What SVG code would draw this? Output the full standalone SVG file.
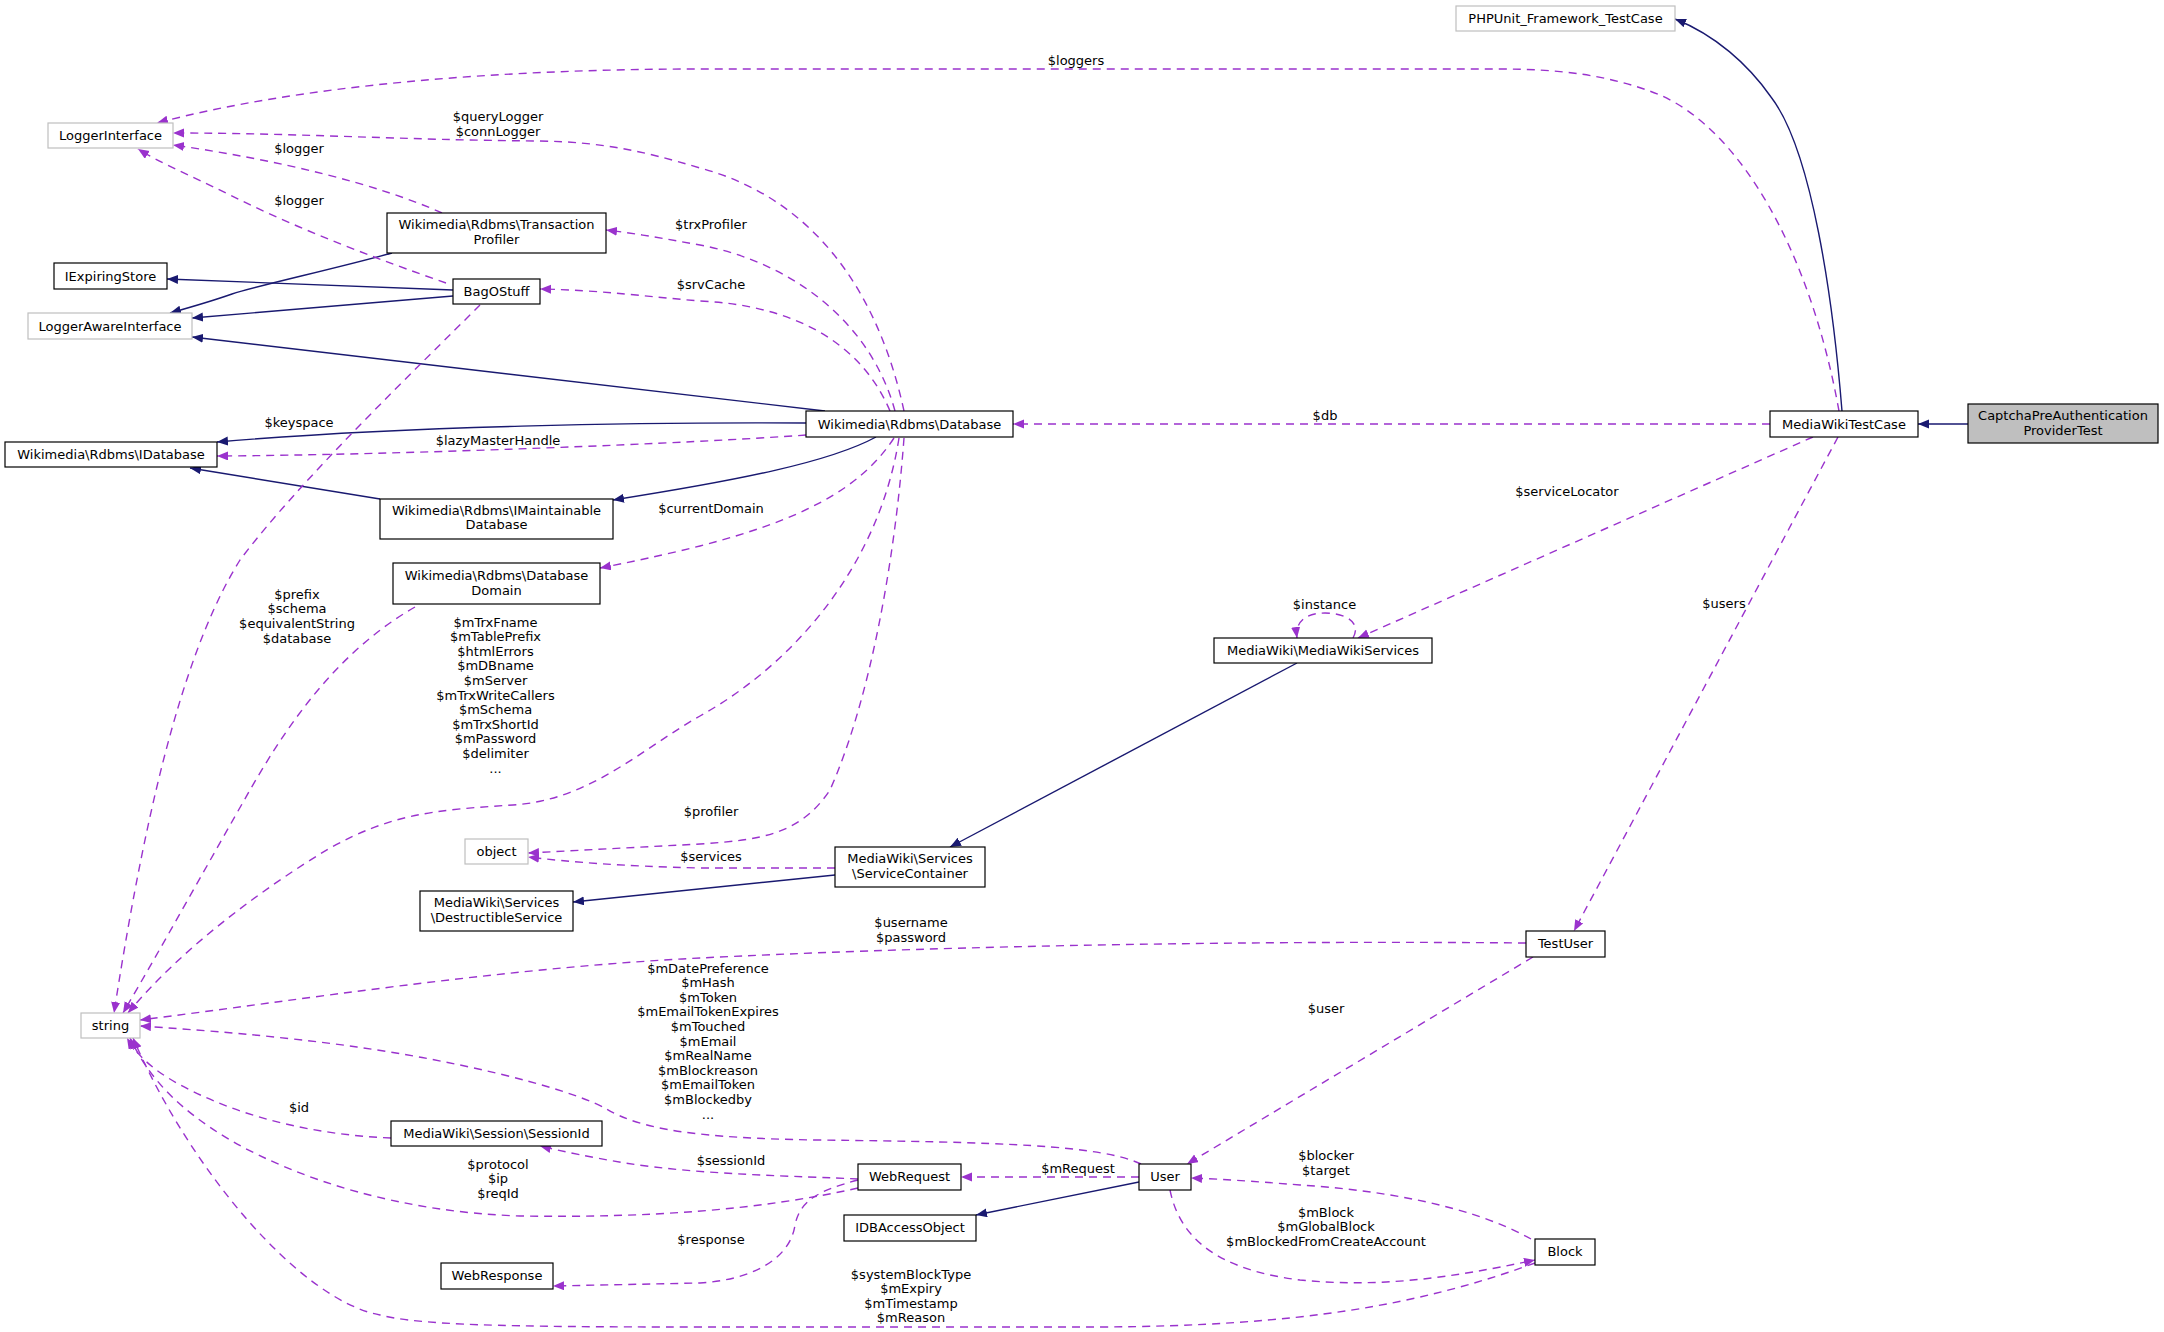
<svg xmlns="http://www.w3.org/2000/svg" width="2164" height="1332" viewBox="0 0 2164 1332">
<style>
text{font-family:"DejaVu Sans","Liberation Sans",sans-serif;font-size:13px;text-anchor:middle;fill:#000}
.n rect{fill:#fff;stroke:#000;stroke-width:1.2}
.g rect{fill:#fff;stroke:#bfbfbf;stroke-width:1.2}
.cur rect{fill:#bfbfbf;stroke:#000;stroke-width:1.2}
.inh{fill:none;stroke:#191970;stroke-width:1.4;marker-end:url(#ah1)}
.ref{fill:none;stroke:#9a32cd;stroke-width:1.4;stroke-dasharray:8,6;marker-end:url(#ah2)}
</style>
<defs>
<marker id="ah1" markerUnits="userSpaceOnUse" markerWidth="12" markerHeight="10" refX="11" refY="4.5" orient="auto"><path d="M0,0 L11,4.5 L0,9 z" fill="#191970"/></marker>
<marker id="ah2" markerUnits="userSpaceOnUse" markerWidth="12" markerHeight="10" refX="11" refY="4.5" orient="auto"><path d="M0,0 L11,4.5 L0,9 z" fill="#9a32cd"/></marker>
</defs>
<rect width="2164" height="1332" fill="#fff"/>
<g id="connectors">
<path class="inh" d="M1968,424 L1918,424"/>
<path class="inh" d="M1842,411 C1833,300 1812,150 1771,97 C1748,64 1715,35 1675,19"/>
<path class="inh" d="M825,411 L192,337"/>
<path class="inh" d="M806,423 C650,422 400,426 217,442"/>
<path class="inh" d="M876,437 C830,462 740,480 613,500"/>
<path class="inh" d="M380,499 L190,468"/>
<path class="inh" d="M453,290 L167,279"/>
<path class="inh" d="M453,296 L192,318"/>
<path class="inh" d="M392,253 C330,270 260,285 232,294 C215,300 195,306 170,313"/>
<path class="inh" d="M1297,663 L950,847"/>
<path class="inh" d="M835,875 L573,902"/>
<path class="inh" d="M1139,1182 L976,1215"/>
<path class="ref" d="M1839,411 C1810,250 1740,130 1660,95 C1610,75 1560,69 1500,69 L700,69 C500,69 300,85 157,123"/>
<path class="ref" d="M904,411 C880,300 820,200 700,168 C640,150 600,142 540,141 C400,140 300,133 173,133"/>
<path class="ref" d="M442,213 C380,185 280,160 173,145"/>
<path class="ref" d="M446,283 C380,260 300,230 230,195 C190,175 160,163 138,149"/>
<path class="ref" d="M895,411 C870,320 790,262 700,245 C660,238 640,234 606,230"/>
<path class="ref" d="M890,411 C860,340 790,305 700,301 C650,297 600,290 540,289"/>
<path class="ref" d="M806,435 C700,443 400,455 217,456"/>
<path class="ref" d="M1770,424 L1013,424"/>
<path class="ref" d="M894,438 C860,490 800,520 700,546 C660,556 630,562 600,568"/>
<path class="ref" d="M899,438 C880,560 800,660 700,716 C640,750 590,800 513,805 C430,810 390,815 330,848 C260,890 180,950 128,1013"/>
<path class="ref" d="M904,438 C895,560 870,700 830,790 C800,835 760,840 700,844 L528,853"/>
<path class="ref" d="M480,305 C420,365 300,480 240,560 C190,640 150,780 114,1013"/>
<path class="ref" d="M415,607 C340,650 290,720 250,790 C210,860 160,950 123,1013"/>
<path class="ref" d="M1813,437 L1358,638"/>
<path class="ref" d="M1353,638 C1362,622 1345,613 1325,613 C1305,613 1295,622 1297,638"/>
<path class="ref" d="M1838,437 L1574,931"/>
<path class="ref" d="M835,868 L700,868 C620,866 570,862 528,857"/>
<path class="ref" d="M1526,943 C1200,940 900,948 700,958 C500,968 300,1000 140,1020"/>
<path class="ref" d="M1141,1164 C1100,1145 1000,1142 815,1140 C700,1138 640,1130 605,1108 C560,1085 450,1060 357,1047 C280,1036 200,1030 140,1026"/>
<path class="ref" d="M391,1138 C320,1135 250,1120 190,1090 C160,1075 140,1060 127,1038"/>
<path class="ref" d="M858,1179 C800,1176 700,1175 625,1163 C590,1157 565,1152 540,1146"/>
<path class="ref" d="M858,1188 C760,1210 650,1218 520,1216 C400,1212 300,1180 230,1140 C180,1110 150,1080 130,1038"/>
<path class="ref" d="M858,1180 C820,1190 800,1200 795,1225 C790,1260 750,1280 700,1283 L553,1286"/>
<path class="ref" d="M1139,1177 L961,1177"/>
<path class="ref" d="M1533,957 L1187,1164"/>
<path class="ref" d="M1531,1239 C1470,1205 1380,1190 1300,1185 C1250,1181 1220,1179 1191,1178"/>
<path class="ref" d="M1170,1190 C1180,1240 1220,1270 1300,1280 C1380,1288 1450,1278 1535,1260"/>
<path class="ref" d="M1535,1263 C1420,1305 1300,1326 1100,1327 L700,1327 C500,1327 420,1325 380,1315 C300,1300 190,1170 133,1038"/>
<g id="edge-labels">
<text x="1076" y="65">$loggers</text>
<text x="498" y="121">$queryLogger</text>
<text x="498" y="136">$connLogger</text>
<text x="299" y="153">$logger</text>
<text x="299" y="205">$logger</text>
<text x="711" y="229">$trxProfiler</text>
<text x="711" y="289">$srvCache</text>
<text x="299" y="427">$keyspace</text>
<text x="498" y="445">$lazyMasterHandle</text>
<text x="1325" y="419.5">$db</text>
<text x="711" y="513">$currentDomain</text>
<text x="1567" y="496">$serviceLocator</text>
<text x="297" y="598.5">$prefix</text>
<text x="297" y="613">$schema</text>
<text x="297" y="628">$equivalentString</text>
<text x="297" y="643">$database</text>
<text x="495.5" y="626.5">$mTrxFname</text>
<text x="495.5" y="641.1">$mTablePrefix</text>
<text x="495.5" y="655.7">$htmlErrors</text>
<text x="495.5" y="670.3">$mDBname</text>
<text x="495.5" y="684.9">$mServer</text>
<text x="495.5" y="699.5">$mTrxWriteCallers</text>
<text x="495.5" y="714.1">$mSchema</text>
<text x="495.5" y="728.7">$mTrxShortId</text>
<text x="495.5" y="743.3">$mPassword</text>
<text x="495.5" y="757.9">$delimiter</text>
<text x="495.5" y="772.5">...</text>
<text x="1324.5" y="608.5">$instance</text>
<text x="1724" y="607.5">$users</text>
<text x="711" y="816">$profiler</text>
<text x="711" y="861">$services</text>
<text x="911" y="927">$username</text>
<text x="911" y="941.5">$password</text>
<text x="708" y="972.5">$mDatePreference</text>
<text x="708" y="987.1">$mHash</text>
<text x="708" y="1001.7">$mToken</text>
<text x="708" y="1016.3">$mEmailTokenExpires</text>
<text x="708" y="1030.9">$mTouched</text>
<text x="708" y="1045.5">$mEmail</text>
<text x="708" y="1060.1">$mRealName</text>
<text x="708" y="1074.7">$mBlockreason</text>
<text x="708" y="1089.3">$mEmailToken</text>
<text x="708" y="1103.9">$mBlockedby</text>
<text x="708" y="1118.5">...</text>
<text x="1326" y="1013">$user</text>
<text x="299" y="1111.5">$id</text>
<text x="731" y="1165">$sessionId</text>
<text x="1326" y="1159.5">$blocker</text>
<text x="1326" y="1175">$target</text>
<text x="1078" y="1173">$mRequest</text>
<text x="498" y="1168.5">$protocol</text>
<text x="498" y="1183.1">$ip</text>
<text x="498" y="1197.7">$reqId</text>
<text x="1326" y="1216.5">$mBlock</text>
<text x="1326" y="1231">$mGlobalBlock</text>
<text x="1326" y="1245.6">$mBlockedFromCreateAccount</text>
<text x="711" y="1244">$response</text>
<text x="911" y="1278.5">$systemBlockType</text>
<text x="911" y="1293">$mExpiry</text>
<text x="911" y="1307.6">$mTimestamp</text>
<text x="911" y="1322">$mReason</text>
</g>
</g>
<g id="node-captcha" class="cur"><rect x="1968" y="404" width="190" height="39"/><text x="2063" y="420">CaptchaPreAuthentication</text><text x="2063" y="435">ProviderTest</text></g>
<g id="node-mwtestcase" class="n"><rect x="1770" y="411" width="148" height="26"/><text x="1844" y="428.5">MediaWikiTestCase</text></g>
<g id="node-phpunit" class="g"><rect x="1456" y="6" width="219" height="25"/><text x="1565.5" y="23">PHPUnit_Framework_TestCase</text></g>
<g id="node-loggerinterface" class="g"><rect x="48" y="123" width="125" height="25"/><text x="110.5" y="140">LoggerInterface</text></g>
<g id="node-transactionprofiler" class="n"><rect x="387" y="213" width="219" height="40"/><text x="496.5" y="229">Wikimedia\Rdbms\Transaction</text><text x="496.5" y="244">Profiler</text></g>
<g id="node-iexpiringstore" class="n"><rect x="54" y="263" width="113" height="26"/><text x="110.5" y="280.5">IExpiringStore</text></g>
<g id="node-bagostuff" class="n"><rect x="453" y="279" width="87" height="25"/><text x="496.5" y="296">BagOStuff</text></g>
<g id="node-loggerawareinterface" class="g"><rect x="28" y="313" width="164" height="26"/><text x="110" y="330.5">LoggerAwareInterface</text></g>
<g id="node-database" class="n"><rect x="806" y="411" width="207" height="26"/><text x="909.5" y="428.5">Wikimedia\Rdbms\Database</text></g>
<g id="node-idatabase" class="n"><rect x="5" y="442" width="212" height="25"/><text x="111" y="459">Wikimedia\Rdbms\IDatabase</text></g>
<g id="node-imaintainabledatabase" class="n"><rect x="380" y="499" width="233" height="40"/><text x="496.5" y="514.5">Wikimedia\Rdbms\IMaintainable</text><text x="496.5" y="529">Database</text></g>
<g id="node-databasedomain" class="n"><rect x="393" y="563" width="207" height="41"/><text x="496.5" y="579.5">Wikimedia\Rdbms\Database</text><text x="496.5" y="595">Domain</text></g>
<g id="node-mediawikiservices" class="n"><rect x="1214" y="638" width="218" height="25"/><text x="1323" y="655">MediaWiki\MediaWikiServices</text></g>
<g id="node-object" class="g"><rect x="465" y="839" width="63" height="25"/><text x="496.5" y="856">object</text></g>
<g id="node-servicecontainer" class="n"><rect x="835" y="847" width="150" height="40"/><text x="910" y="863">MediaWiki\Services</text><text x="910" y="877.5">\ServiceContainer</text></g>
<g id="node-destructibleservice" class="n"><rect x="420" y="891" width="153" height="40"/><text x="496.5" y="907">MediaWiki\Services</text><text x="496.5" y="921.5">\DestructibleService</text></g>
<g id="node-testuser" class="n"><rect x="1526" y="931" width="79" height="26"/><text x="1565.5" y="948">TestUser</text></g>
<g id="node-string" class="g"><rect x="81" y="1013" width="59" height="25"/><text x="110.5" y="1030">string</text></g>
<g id="node-sessionid" class="n"><rect x="391" y="1121" width="211" height="25"/><text x="496.5" y="1138">MediaWiki\Session\SessionId</text></g>
<g id="node-webrequest" class="n"><rect x="858" y="1164" width="103" height="26"/><text x="909.5" y="1181">WebRequest</text></g>
<g id="node-user" class="n"><rect x="1139" y="1164" width="52" height="26"/><text x="1165" y="1181">User</text></g>
<g id="node-idbaccessobject" class="n"><rect x="844" y="1215" width="132" height="26"/><text x="910" y="1232">IDBAccessObject</text></g>
<g id="node-webresponse" class="n"><rect x="441" y="1263" width="112" height="26"/><text x="497" y="1280">WebResponse</text></g>
<g id="node-block" class="n"><rect x="1535" y="1239" width="60" height="26"/><text x="1565" y="1256">Block</text></g>
</svg>
